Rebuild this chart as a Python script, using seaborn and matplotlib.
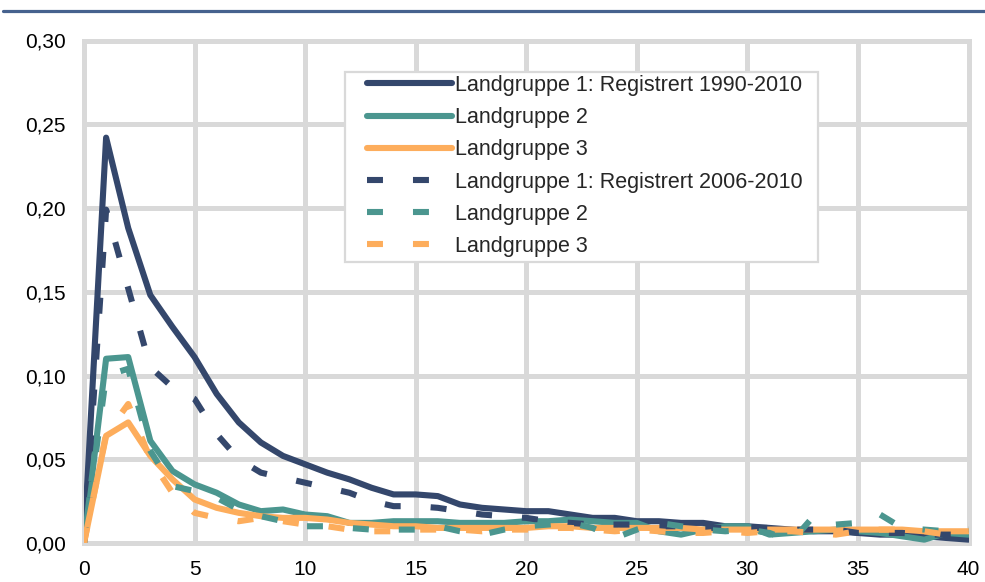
import matplotlib
matplotlib.use("Agg")
import matplotlib.pyplot as plt
from matplotlib.lines import Line2D
from matplotlib.patches import Rectangle
from matplotlib.ticker import FuncFormatter, MultipleLocator
import pandas as pd
import seaborn as sns

# years since registration (x axis)
years = list(range(41))

# Landgruppe 1-3, registered 1990-2010 (solid)
lg1_1990 = [0.000, 0.242, 0.188, 0.148, 0.129, 0.111, 0.089, 0.072, 0.060, 0.052,
            0.047, 0.042, 0.038, 0.033, 0.029, 0.029, 0.028, 0.023, 0.021, 0.020,
            0.019, 0.019, 0.017, 0.015, 0.015, 0.013, 0.013, 0.012, 0.012, 0.010,
            0.010, 0.009, 0.008, 0.007, 0.007, 0.006, 0.005, 0.005, 0.004, 0.003,
            0.002]
lg2_1990 = [0.000, 0.110, 0.111, 0.061, 0.043, 0.035, 0.030, 0.023, 0.019, 0.020,
            0.017, 0.016, 0.012, 0.012, 0.013, 0.013, 0.013, 0.012, 0.012, 0.012,
            0.013, 0.013, 0.014, 0.013, 0.012, 0.012, 0.007, 0.005, 0.008, 0.010,
            0.010, 0.005, 0.006, 0.007, 0.008, 0.007, 0.006, 0.004, 0.002, 0.006,
            0.005]
lg3_1990 = [0.000, 0.064, 0.072, 0.052, 0.038, 0.026, 0.021, 0.018, 0.016, 0.015,
            0.015, 0.014, 0.012, 0.011, 0.010, 0.010, 0.009, 0.009, 0.009, 0.009,
            0.009, 0.010, 0.010, 0.009, 0.009, 0.009, 0.009, 0.009, 0.008, 0.008,
            0.008, 0.008, 0.008, 0.008, 0.008, 0.008, 0.008, 0.008, 0.007, 0.007,
            0.007]

# Landgruppe 1-3, registered 2006-2010 (dashed)
lg1_2006 = [0.000, 0.199, 0.152, 0.105, 0.093, 0.086, 0.065, 0.050, 0.042, 0.039,
            0.036, 0.033, 0.030, 0.025, 0.022, 0.022, 0.021, 0.019, 0.017, 0.016,
            0.015, 0.013, 0.012, 0.011, 0.011, 0.011, 0.010, 0.010, 0.009, 0.009,
            0.009, 0.009, 0.008, 0.008, 0.008, 0.006, 0.006, 0.006, 0.005, 0.005,
            0.005]
lg2_2006 = [0.000, 0.100, 0.104, 0.055, 0.034, 0.031, 0.027, 0.020, 0.016, 0.013,
            0.010, 0.010, 0.009, 0.008, 0.008, 0.008, 0.010, 0.007, 0.005, 0.008,
            0.010, 0.011, 0.012, 0.009, 0.003, 0.008, 0.012, 0.010, 0.008, 0.007,
            0.008, 0.006, 0.001, 0.016, 0.011, 0.012, 0.017, 0.009, 0.008, 0.007,
            0.008]
lg3_2006 = [0.000, 0.065, 0.083, 0.050, 0.030, 0.018, 0.015, 0.013, 0.015, 0.013,
            0.011, 0.010, 0.008, 0.007, 0.007, 0.008, 0.008, 0.008, 0.007, 0.008,
            0.008, 0.009, 0.009, 0.008, 0.007, 0.008, 0.007, 0.006, 0.006, 0.007,
            0.006, 0.007, 0.007, 0.006, 0.005, 0.007, 0.008, 0.008, 0.007, 0.005,
            0.006]

series_keys = ["lg1_1990", "lg2_1990", "lg3_1990", "lg1_2006", "lg2_2006", "lg3_2006"]
series_values = [lg1_1990, lg2_1990, lg3_1990, lg1_2006, lg2_2006, lg3_2006]
legend_labels = [
    "Landgruppe 1: Registrert 1990-2010",
    "Landgruppe 2",
    "Landgruppe 3",
    "Landgruppe 1: Registrert 2006-2010",
    "Landgruppe 2",
    "Landgruppe 3",
]

NAVY = "#34476c"
TEAL = "#4b968f"
ORANGE = "#fdad5c"
GRID = "#d9d9d9"

palette = dict(zip(series_keys, [NAVY, TEAL, ORANGE, NAVY, TEAL, ORANGE]))
lw = 4.4
dash = (11.5 / lw, 21.6 / lw)
dashes = dict(zip(series_keys, ["", "", "", dash, dash, dash]))

df = pd.concat(
    [pd.DataFrame({"year": years, "value": vals, "series": key})
     for key, vals in zip(series_keys, series_values)],
    ignore_index=True,
)

sns.set_theme(style="white")
plt.rcParams["font.family"] = ["Liberation Sans", "DejaVu Sans"]

fig = plt.figure(figsize=(9.85, 5.82), dpi=100)
ax = fig.add_axes([84 / 985, 39 / 582, 884.5 / 985, 502.5 / 582])

sns.lineplot(
    data=df, x="year", y="value", hue="series", style="series",
    hue_order=series_keys, style_order=series_keys,
    palette=palette, dashes=dashes, linewidth=lw,
    solid_capstyle="round", solid_joinstyle="round",
    dash_capstyle="butt", legend=False, ax=ax,
)

ax.set_xlim(0, 40)
ax.set_ylim(0, 0.30)
ax.xaxis.set_major_locator(MultipleLocator(5))
ax.yaxis.set_major_locator(MultipleLocator(0.05))
ax.yaxis.set_major_formatter(FuncFormatter(lambda v, _: f"{v:.2f}".replace(".", ",")))
ax.set_xlabel("")
ax.set_ylabel("")
ax.grid(True, color=GRID, linewidth=3.6)
ax.set_axisbelow(True)
for side in ax.spines.values():
    side.set_color(GRID)
    side.set_linewidth(3.6)
    side.set_zorder(0.5)
ax.tick_params(axis="both", length=0, labelsize=15, colors="black")
ax.tick_params(axis="y", pad=13)
ax.tick_params(axis="x", pad=12.5)

# legend box
ax.add_patch(Rectangle((345 / 985, 1 - 262 / 582), 473 / 985, 190 / 582,
                       transform=fig.transFigure, facecolor="white",
                       edgecolor=GRID, linewidth=1.6, zorder=4, clip_on=False))
leg = ax.legend(
    ax.get_lines()[:6], legend_labels,
    loc="upper left", bbox_to_anchor=(367 / 985, 1 - 75 / 582),
    bbox_transform=fig.transFigure, frameon=False, fontsize=15.5,
    borderpad=0, borderaxespad=0, handlelength=3.95, handletextpad=0.15,
    labelspacing=0.52,
)
leg.set_zorder(5)

# blue rule along the top
fig.add_artist(Line2D([0.003, 1.0], [1 - 10.5 / 582] * 2, color="#46628e",
                      linewidth=2.3, transform=fig.transFigure))

fig.savefig("out.png", dpi=100)
